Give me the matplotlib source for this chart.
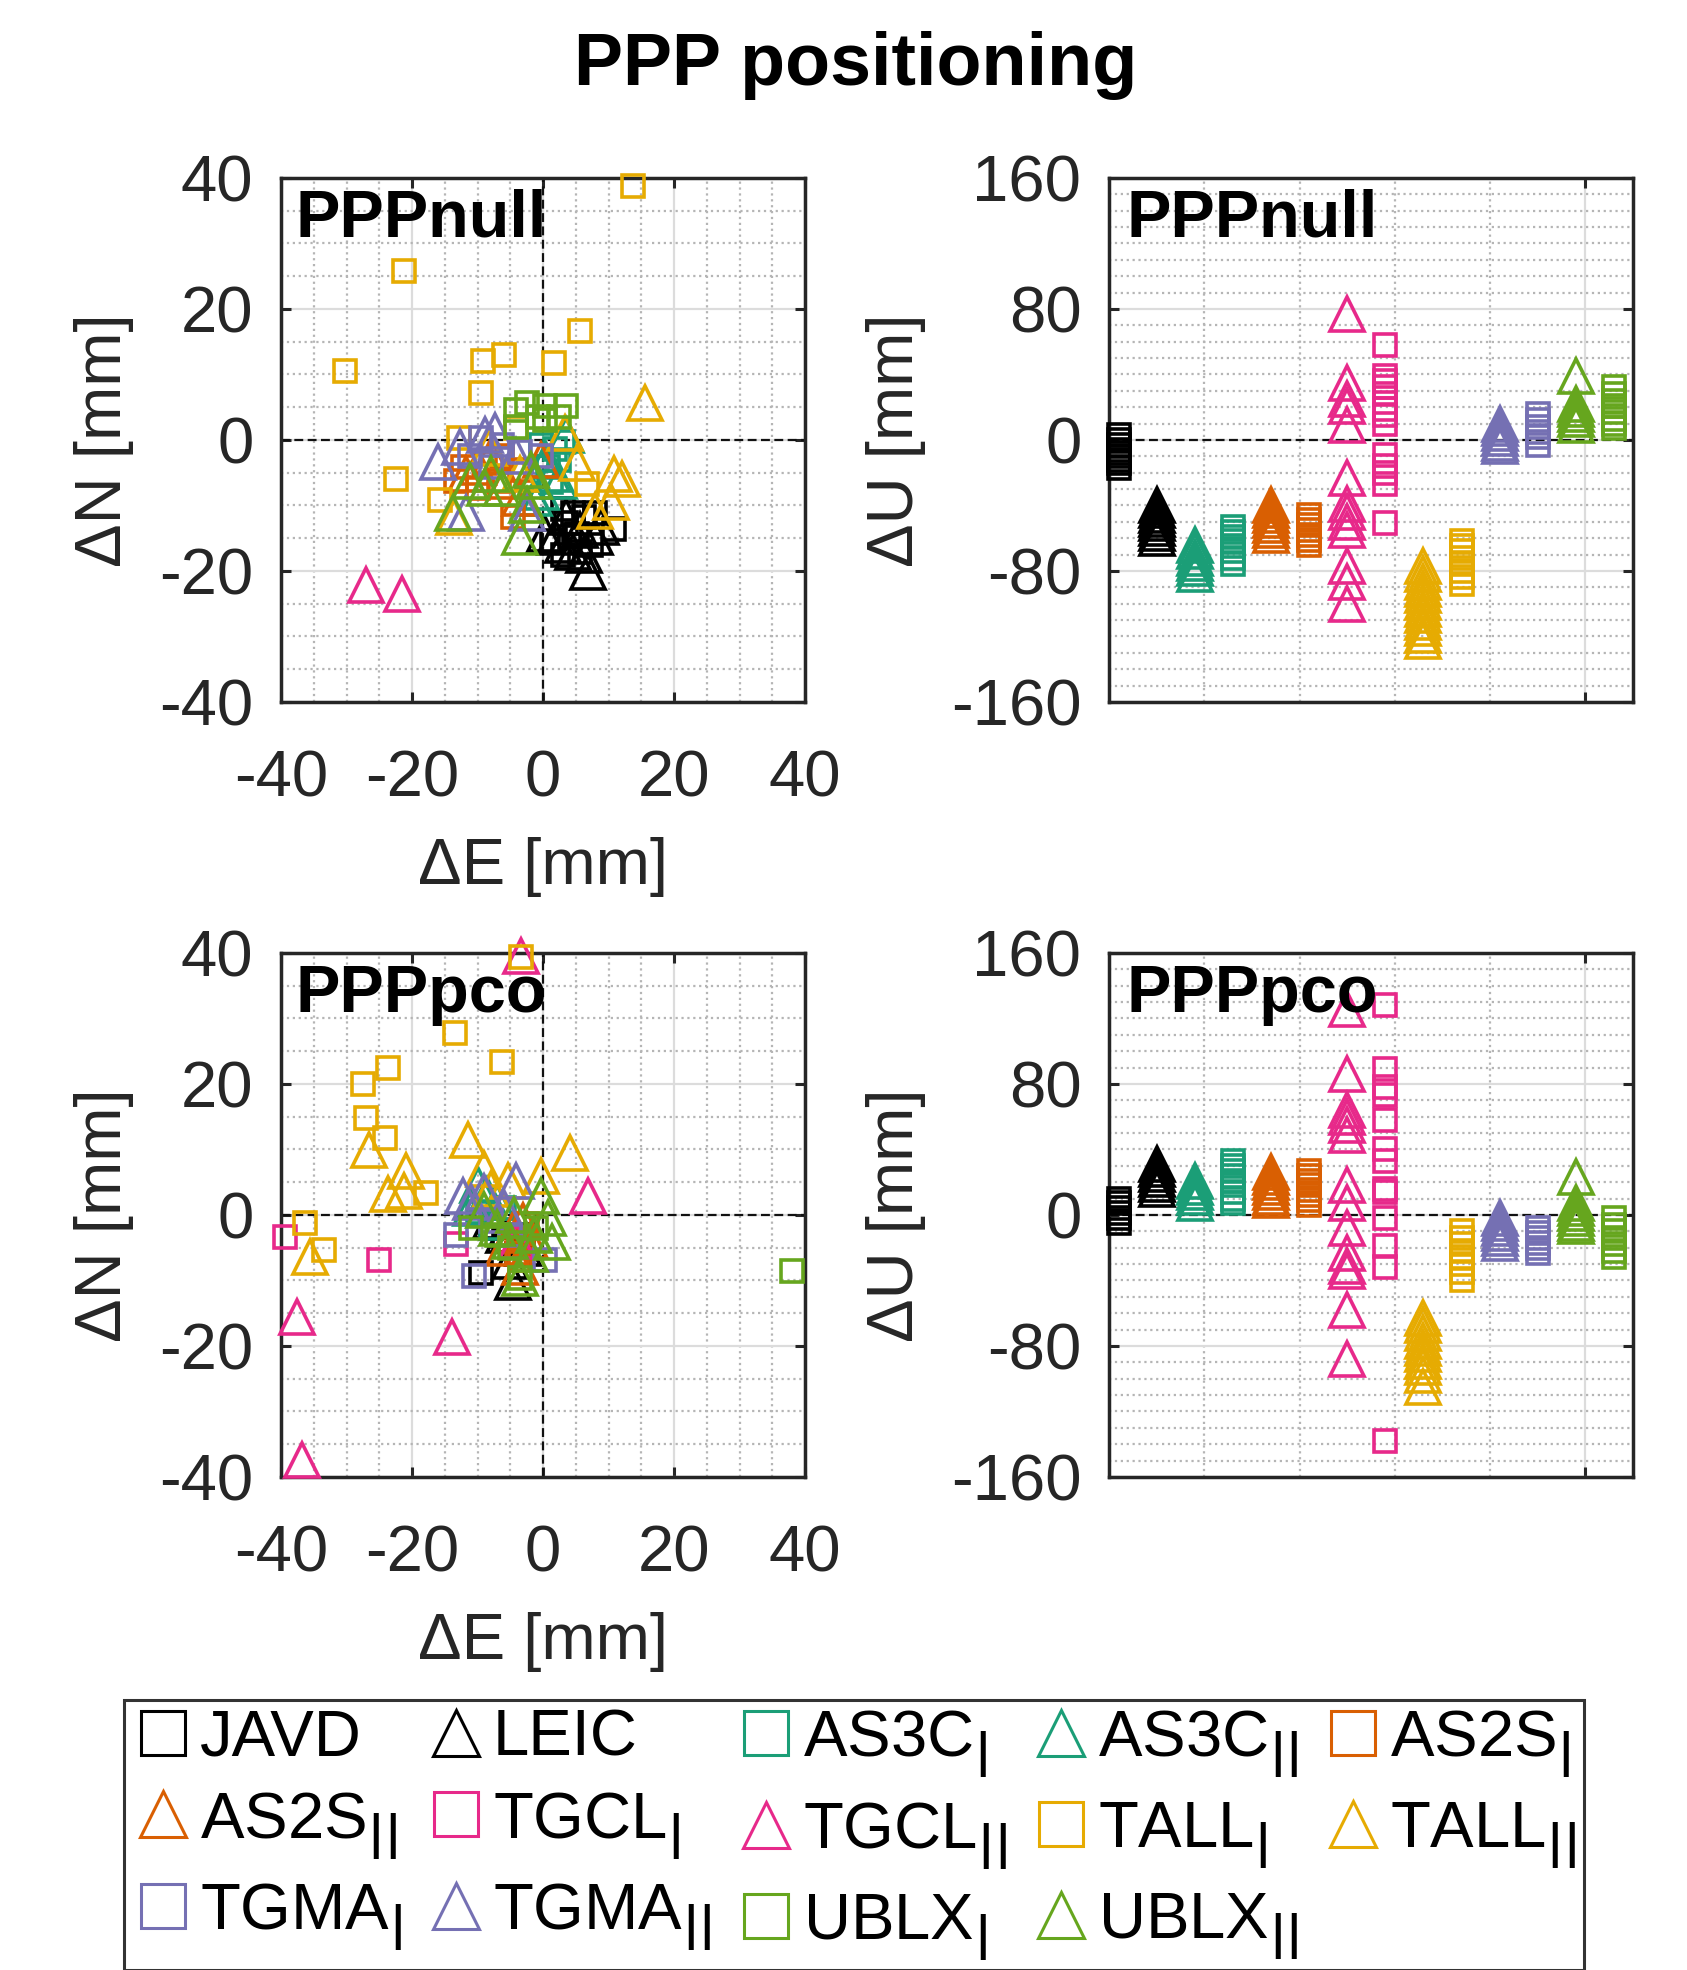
import matplotlib
matplotlib.use("Agg")
import matplotlib.pyplot as plt
from matplotlib.lines import Line2D
from matplotlib.ticker import MultipleLocator, FixedLocator

plt.rcParams["font.family"] = ["Liberation Sans", "DejaVu Sans"]
plt.rcParams["mathtext.fontset"] = "custom"
plt.rcParams["mathtext.rm"] = "Liberation Sans"
plt.rcParams["mathtext.bf"] = "DejaVu Sans:bold"
plt.rcParams["mathtext.default"] = "regular"
plt.rcParams["axes.unicode_minus"] = False

# series, in legend order (_I = square marker, _II = triangle marker)
series = ["JAVD", "LEIC", "AS3C_I", "AS3C_II", "AS2S_I", "AS2S_II", "TGCL_I", "TGCL_II",
          "TALL_I", "TALL_II", "TGMA_I", "TGMA_II", "UBLX_I", "UBLX_II"]
SUB1 = r"$_{\mathbf{|}}$"
SUB2 = r"$_{\mathbf{||}}$"
labels = ["JAVD", "LEIC", "AS3C" + SUB1, "AS3C" + SUB2, "AS2S" + SUB1, "AS2S" + SUB2,
          "TGCL" + SUB1, "TGCL" + SUB2, "TALL" + SUB1, "TALL" + SUB2,
          "TGMA" + SUB1, "TGMA" + SUB2, "UBLX" + SUB1, "UBLX" + SUB2]
# x slot of each series in the dU panels
u_slot = [0.2, 1.0, 2.6, 1.8, 4.2, 3.4, 5.8, 5.0, 7.4, 6.6, 9.0, 8.2, 10.6, 9.8]

# PPPnull horizontal errors [mm]
null_de = {
    "JAVD": [3.0, 4.6, 6.2, 7.9, 10.8, 3.5, 5.2, 3.0, 7.3, 5.7, 1.4, 4.1],
    "LEIC": [6.8, 0.3, 3.0, 5.7, 7.9, 4.6, 1.9, 8.9, 6.2, 3.5],
    "AS3C_I": [1.9, 2.4, 0.8, -0.3, 3.0, 1.2],
    "AS3C_II": [2.4, -0.3, 3.5, 1.4, -1.4, 0.5],
    "AS2S_I": [-12.2, -8.9, -6.2, -13.3, -4.6, -6.8, -10.0, -3.5],
    "AS2S_II": [-7.9, -10.0, -5.7, -0.3, -3.5, -11.7],
    "TGCL_I": [],
    "TGCL_II": [-27.0, -21.6],
    "TALL_I": [13.8, -21.3, -30.3, -9.2, -6.0, 1.7, 5.7, -9.4, -12.9, -22.5, -15.7, -4.1, 6.7],
    "TALL_II": [15.6, 3.4, 5.2, 10.8, 10.3, 8.0, -8.2, -13.6, -3.5, 12.0],
    "TGMA_I": [-9.5, -6.2, -3.5, -0.3, -11.1, -7.9],
    "TGMA_II": [-16.0, -12.7, -8.9, -11.7, -7.3, -2.4, -4.1],
    "UBLX_I": [-2.4, 0.3, 3.5, -4.1, -0.8, -4.1, 0.3, 2.4],
    "UBLX_II": [-7.9, -11.1, -13.8, -3.5, -1.9, -2.4, -6.2, -8.9, -1.4],
}
null_dn = {
    "JAVD": [-10.6, -11.1, -11.7, -11.1, -13.6, -12.7, -14.4, -17.6, -16.0, -17.1, -15.5, -14.9],
    "LEIC": [-20.1, -14.4, -16.0, -13.8, -14.9, -17.1, -14.9, -13.3, -17.6, -11.7],
    "AS3C_I": [-1.4, -3.0, -4.1, -0.8, -0.3, -6.5],
    "AS3C_II": [-6.2, -7.9, 0.8, -5.2, -8.9, -3.0],
    "AS2S_I": [-4.1, -3.5, -2.4, -6.2, -11.7, -6.2, -7.3, -4.6],
    "AS2S_II": [-2.4, -4.1, -6.2, -3.0, -8.9, -5.2],
    "TGCL_I": [],
    "TGCL_II": [-22.2, -23.6],
    "TALL_I": [38.8, 25.8, 10.5, 12.1, 12.9, 11.8, 16.6, 7.2, 0.3, -6.0, -9.1, 1.8, -6.8],
    "TALL_II": [5.7, 1.1, -3.5, -5.2, -9.5, -10.8, -1.2, -11.7, -5.2, -6.0],
    "TGMA_I": [0.3, -0.8, -1.9, -2.4, -2.4, -4.1],
    "TGMA_II": [-3.3, -1.1, 0.8, -11.1, 1.4, -11.1, -2.4],
    "UBLX_I": [5.7, 5.2, 5.2, 4.6, 3.5, 1.9, 3.0, 3.5],
    "UBLX_II": [-5.2, -6.2, -11.1, -14.9, -4.6, -10.0, -7.3, -7.3, -6.2],
}
# PPPnull up errors [mm]
null_du = {
    "JAVD": [3, 0, -3, -6, -8, -10, -12, -14, -17],
    "LEIC": [-40, -43, -46, -48, -51, -54, -57, -60],
    "AS3C_I": [-53, -56, -59, -62, -65, -68, -72, -76],
    "AS3C_II": [-64, -68, -72, -75, -78, -82],
    "AS2S_I": [-46, -49, -52, -55, -58, -61, -64],
    "AS2S_II": [-40, -43, -46, -49, -52, -55, -58],
    "TGCL_I": [58, 39, 36, 32, 28, 19, 15, 10, -9, -16, -20, -27, -51],
    "TGCL_II": [77, 35, 25, 21, 9, -23, -39, -44, -50, -55, -77, -87, -100],
    "TALL_I": [-62, -65, -68, -72, -76, -80, -84, -88],
    "TALL_II": [-77, -82, -87, -91, -95, -99, -103, -107, -111, -115, -119, -123],
    "TGMA_I": [16, 12, 8, 5, 2, -3],
    "TGMA_II": [10, 7, 4, 1, -2, -4],
    "UBLX_I": [32, 28, 24, 21, 17, 13, 10, 7],
    "UBLX_II": [39, 22, 19, 16, 13, 9],
}

# PPPpco horizontal errors [mm]
pco_de = {
    "JAVD": [-9.5, -6.0, -4.0, -8.0, -3.0],
    "LEIC": [-4.6, -6.0, -3.0, -8.0, -5.0],
    "AS3C_I": [-10.0, -8.0, -6.0, -5.0],
    "AS3C_II": [-10.0, -8.5, -7.0, -11.0],
    "AS2S_I": [-3.5, -4.0, -3.0, -2.5, -5.0],
    "AS2S_II": [-3.5, -2.0, -4.5, -6.0, -3.0],
    "TGCL_I": [-39.4, -25.0, -13.3],
    "TGCL_II": [-3.3, 6.9, -37.5, -13.9, -36.8, -4.0],
    "TALL_I": [-3.3, -13.4, -6.3, -23.6, -27.5, -27.1, -24.1, -17.9, -36.4, -33.5],
    "TALL_II": [-11.4, 4.1, -26.6, -20.9, -9.0, -0.3, -23.6, -21.2, -5.3, -35.6, -7.9],
    "TGMA_I": [-10.6, -13.3, 0.3, -8.0, -5.0],
    "TGMA_II": [-12.2, -4.1, -11.0, -9.0, -6.0],
    "UBLX_I": [38.0, -11.0, -7.0, -3.5, -5.0, -1.0],
    "UBLX_II": [-0.3, 0.8, -3.5, -1.4, 1.4, -9.0, -7.0, -5.0, -2.0, -4.5],
}
pco_dn = {
    "JAVD": [-8.8, -4.0, -6.0, -2.0, -3.0],
    "LEIC": [-10.2, -3.0, -5.0, -1.0, -7.0],
    "AS3C_I": [0.5, -2.0, 1.0, -3.0],
    "AS3C_II": [4.6, 3.0, 2.0, 1.0],
    "AS2S_I": [-6.9, -5.8, -3.6, -1.4, -4.0],
    "AS2S_II": [-8.0, -4.0, -2.0, -5.0, -1.0],
    "TGCL_I": [-3.4, -6.9, -4.5],
    "TGCL_II": [39.6, 2.9, -15.6, -18.6, -37.4, -4.0],
    "TALL_I": [39.4, 27.8, 23.4, 22.4, 20.0, 14.8, 11.7, 3.4, -1.3, -5.4],
    "TALL_II": [11.5, 9.4, 9.9, 6.7, 7.0, 5.9, 3.2, 3.7, 5.1, -6.4, 4.0],
    "TGMA_I": [-9.3, -3.1, -6.9, -1.0, -3.0],
    "TGMA_II": [2.9, 5.1, 2.0, 3.5, 1.0],
    "UBLX_I": [-8.5, -2.0, -3.0, -9.6, -5.0, -2.0],
    "UBLX_II": [2.9, -0.4, -9.6, -3.1, -4.2, 0.7, -2.0, -4.0, -6.0, 0.0],
}
# PPPpco up errors [mm]
pco_du = {
    "JAVD": [10, 7, 4, 1, -2, -5],
    "LEIC": [31, 28, 25, 22, 19, 16],
    "AS3C_I": [33, 30, 27, 24, 21, 18, 14, 10, 7],
    "AS3C_II": [21, 17, 14, 11, 7],
    "AS2S_I": [27, 24, 21, 18, 15, 12, 9, 6],
    "AS2S_II": [26, 23, 20, 17, 14, 11, 9],
    "TGCL_I": [128, 89, 78, 73, 58, 40, 33, 16, 14, -2, -19, -32, -138],
    "TGCL_II": [126, 86, 64, 60, 55, 49, 18, 7, -8, -23, -31, -34, -58, -88],
    "TALL_I": [-10, -14, -18, -22, -26, -30, -35, -40],
    "TALL_II": [-63, -67, -72, -77, -81, -85, -89, -93, -98, -105],
    "TGMA_I": [-8, -11, -14, -17, -20, -23],
    "TGMA_II": [-2, -5, -8, -11, -14, -17],
    "UBLX_I": [-2, -6, -10, -14, -18, -22, -26],
    "UBLX_II": [23, 7, 4, 1, -2, -5, -7],
}

# styles
teal, orange, purple, pink, green, yellow = "#1b9e77", "#d95f02", "#7570b3", "#e7298a", "#66a61e", "#e6ab02"
colors = ["black", "black", teal, teal, orange, orange, pink, pink,
          yellow, yellow, purple, purple, green, green]
markers = ["s", "^"] * 7
MS = {"s": 16, "^": 24}
MEW = 2.6
TXT = "#262626"
FS = 47


def style_common(ax):
    ax.set_axisbelow(True)
    ax.grid(which="major", color="#dcdcdc", lw=1.6, ls="-")
    ax.grid(which="minor", color="#b5b5b5", lw=1.6, ls=":")
    ax.tick_params(which="major", direction="in", length=7, width=2.2, colors=TXT,
                   top=True, right=True, labelsize=FS)
    ax.tick_params(which="minor", length=0)
    for s in ax.spines.values():
        s.set_linewidth(2.5)
        s.set_color(TXT)


def draw_en(ax, de, dn, tag):
    style_common(ax)
    ax.set_xlim(-40, 40)
    ax.set_ylim(-40, 40)
    ax.xaxis.set_major_locator(MultipleLocator(20))
    ax.yaxis.set_major_locator(MultipleLocator(20))
    ax.xaxis.set_minor_locator(MultipleLocator(5))
    ax.yaxis.set_minor_locator(MultipleLocator(5))
    ax.tick_params(axis="x", pad=34)
    ax.tick_params(axis="y", pad=20)
    ax.axhline(0, color="#111111", ls=(0, (4, 2)), lw=1.6, zorder=1.5)
    ax.axvline(0, color="#111111", ls=(0, (4, 2)), lw=1.6, zorder=1.5)
    for k, c, m in zip(series, colors, markers):
        ax.plot(de[k], dn[k], ls="none", marker=m, ms=MS[m], mfc="none", mec=c,
                mew=MEW, clip_on=False, zorder=3)
    ax.set_xlabel("ΔE [mm]", fontsize=FS, color=TXT, labelpad=20)
    ax.set_ylabel("ΔN [mm]", fontsize=FS, color=TXT, labelpad=18)
    ax.text(0.028, 0.92, tag, transform=ax.transAxes, fontsize=48, fontweight="bold",
            va="center", ha="left", zorder=5)


def draw_u(ax, du, tag):
    style_common(ax)
    ax.set_xlim(0, 11)
    ax.set_ylim(-160, 160)
    ax.xaxis.set_major_locator(FixedLocator([10]))
    ax.xaxis.set_minor_locator(FixedLocator([2, 4, 6, 8]))
    ax.yaxis.set_major_locator(MultipleLocator(80))
    ax.yaxis.set_minor_locator(MultipleLocator(10))
    ax.tick_params(axis="x", labelbottom=False)
    ax.tick_params(axis="y", pad=20)
    ax.axhline(0, color="#111111", ls=(0, (4, 2)), lw=1.6, zorder=1.5)
    for k, c, m, xs in zip(series, colors, markers, u_slot):
        ax.plot([xs] * len(du[k]), du[k], ls="none", marker=m, ms=MS[m], mfc="none",
                mec=c, mew=MEW, clip_on=False, zorder=3)
    ax.set_ylabel("ΔU [mm]", fontsize=FS, color=TXT, labelpad=18)
    ax.text(0.034, 0.92, tag, transform=ax.transAxes, fontsize=48, fontweight="bold",
            va="center", ha="left", zorder=5)


fig = plt.figure(figsize=(16.87, 19.70), dpi=100)
ax_tl = fig.add_axes([0.1666, 0.6437, 0.3106, 0.266])
ax_tr = fig.add_axes([0.6574, 0.6437, 0.3106, 0.266])
ax_bl = fig.add_axes([0.1666, 0.2503, 0.3106, 0.266])
ax_br = fig.add_axes([0.6574, 0.2503, 0.3106, 0.266])

draw_en(ax_tl, null_de, null_dn, "PPPnull")
draw_u(ax_tr, null_du, "PPPnull")
draw_en(ax_bl, pco_de, pco_dn, "PPPpco")
draw_u(ax_br, pco_du, "PPPpco")

fig.text(0.507, 1 - 65 / 1970, "PPP positioning", ha="center", va="center",
         fontsize=53, fontweight="bold")

# legend, filled row by row over 5 columns
handles = [Line2D([], [], ls="none", marker=m, ms=32 if m == "s" else 33, mfc="none",
                  mec=c, mew=2.2) for c, m in zip(colors, markers)]
ncol = 5
order = [r * ncol + c for c in range(ncol) for r in range(3) if r * ncol + c < len(series)]
leg = fig.legend([handles[i] for i in order], [labels[i] for i in order],
                 loc="upper left", bbox_to_anchor=(124 / 1687, 1 - 1700 / 1970),
                 ncol=ncol, fontsize=FS, frameon=True, fancybox=False, edgecolor="black",
                 handlelength=0.94, handletextpad=0.1, columnspacing=0.36,
                 labelspacing=0.32, borderpad=0.12, borderaxespad=0)
leg.get_frame().set_linewidth(2.2)

fig.savefig("out.png", dpi=100)
